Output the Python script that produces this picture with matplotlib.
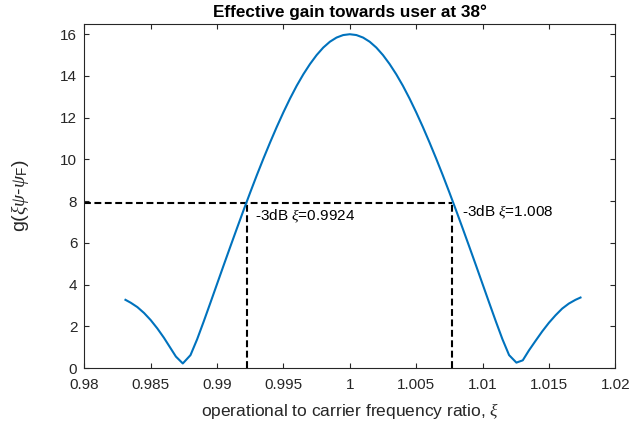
import matplotlib
matplotlib.use('Agg')
import matplotlib.pyplot as plt

plt.rcParams['font.family'] = ['Liberation Sans', 'DejaVu Sans']
plt.rcParams['mathtext.fontset'] = 'custom'
plt.rcParams['mathtext.rm'] = 'Liberation Sans'
plt.rcParams['mathtext.sf'] = 'Liberation Sans'
plt.rcParams['mathtext.it'] = 'Liberation Serif:italic'

# operational to carrier frequency ratio (xi) and the effective gain
xi = [0.9831, 0.9835, 0.9840, 0.9845, 0.9850, 0.9855, 0.9860, 0.9865, 0.9869, 0.98742,
      0.9880, 0.9885, 0.9890, 0.9895, 0.9900, 0.9905, 0.9910, 0.9915, 0.9920, 0.9925,
      0.9930, 0.9935, 0.9940, 0.9945, 0.9950, 0.9955, 0.9960, 0.9965, 0.9970, 0.9975,
      0.9980, 0.9985, 0.9990, 0.9995, 1.0000, 1.0005, 1.0010, 1.0015, 1.0020, 1.0025,
      1.0030, 1.0035, 1.0040, 1.0045, 1.0050, 1.0055, 1.0060, 1.0065, 1.0070, 1.0075,
      1.0080, 1.0085, 1.0090, 1.0095, 1.0100, 1.0105, 1.0110, 1.0115, 1.0120, 1.01255,
      1.01303, 1.0135, 1.0140, 1.0145, 1.0150, 1.0155, 1.0160, 1.0165, 1.0170, 1.01738]
gain = [3.27, 3.13, 2.92, 2.64, 2.30, 1.90, 1.45, 0.95, 0.55, 0.22,
        0.62, 1.38, 2.24, 3.13, 4.03, 4.93, 5.82, 6.70, 7.57, 8.42,
        9.25, 10.05, 10.82, 11.56, 12.26, 12.92, 13.53, 14.08, 14.57, 15.00,
        15.36, 15.64, 15.84, 15.96, 16.00, 15.96, 15.84, 15.64, 15.36, 15.00,
        14.57, 14.08, 13.53, 12.92, 12.26, 11.56, 10.82, 10.05, 9.25, 8.42,
        7.57, 6.70, 5.82, 4.93, 4.03, 3.13, 2.24, 1.38, 0.62, 0.26,
        0.37, 0.85, 1.31, 1.76, 2.17, 2.53, 2.85, 3.09, 3.27, 3.38]

# -3dB points
g_3db = 7.92
xi_3db_left = 0.99225
xi_3db_right = 1.00772
label_left = r'-3dB $\xi$=0.9924'
label_right = r'-3dB $\xi$=1.008'

xticks = [0.98, 0.985, 0.99, 0.995, 1.0, 1.005, 1.01, 1.015, 1.02]
xticklabels = ['0.98', '0.985', '0.99', '0.995', '1', '1.005', '1.01', '1.015', '1.02']
yticks = [0, 2, 4, 6, 8, 10, 12, 14, 16]

fig = plt.figure(figsize=(6.31, 4.25), dpi=100)
ax = fig.add_axes([0.1336, 0.134, 0.8415, 0.810])

dash = (0, (3.3, 1.7))
ax.plot([xticks[0], xi_3db_right], [g_3db, g_3db], color='k', lw=1.5, linestyle=dash)
ax.plot([xi_3db_left, xi_3db_left], [0, g_3db], color='k', lw=1.5, linestyle=dash)
ax.plot([xi_3db_right, xi_3db_right], [0, g_3db], color='k', lw=1.5, linestyle=dash)
ax.plot(xi, gain, color='#0072BD', lw=1.5)

ax.text(xi_3db_left + 0.0006, 7.25, label_left, fontsize=11, ha='left', va='center')
ax.text(xi_3db_right + 0.0007, 7.45, label_right, fontsize=11, ha='left', va='center')

ax.set_xlim(0.98, 1.02)
ax.set_ylim(0, 16.5)
ax.set_xticks(xticks)
ax.set_xticklabels(xticklabels)
ax.set_yticks(yticks)
ax.tick_params(direction='in', top=True, right=True, length=3.5, width=0.8,
               labelsize=11, colors='#262626')
ax.tick_params(axis='x', pad=7)
ax.tick_params(axis='y', pad=5)
for s in ax.spines.values():
    s.set_color('#262626')
    s.set_linewidth(0.8)

ax.set_title('Effective gain towards user at 38°', fontsize=12.3, fontweight='bold', pad=5)
ax.set_xlabel(r'operational to carrier frequency ratio, $\xi$', fontsize=12.5, color='#262626')
ax.set_ylabel(r'g($\xi\psi$-$\psi_{\mathrm{F}}$)', fontsize=14, color='#262626')
ax.xaxis.set_label_coords(0.5, -0.095)
ax.yaxis.set_label_coords(-0.1, 0.5)

fig.savefig('out.png', dpi=100)
